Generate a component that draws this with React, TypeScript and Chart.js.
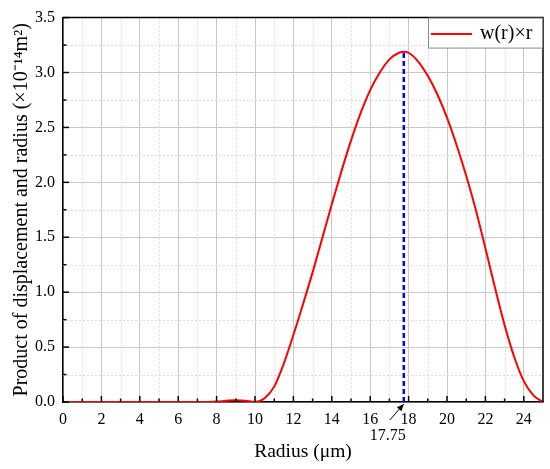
import React, { useEffect, useRef } from 'react';
import { Chart, registerables } from 'chart.js';

Chart.register(...registerables);

const radius = [0, 1, 2, 3, 4, 5, 6, 7, 7.5, 8, 8.5, 9, 9.5, 10, 10.5, 11, 11.5, 12, 12.5, 13, 13.5, 14, 14.5, 15, 15.5, 16, 16.5, 17, 17.5, 17.75, 18, 18.5, 19, 19.5, 20, 20.5, 21, 21.5, 22, 22.5, 23, 23.5, 24, 24.5, 25];
const product = [0, 0, 0, 0, 0, 0, 0, 0, 0.001, 0.004, 0.011, 0.016, 0.012, 0.0, 0.035, 0.14, 0.35, 0.61, 0.89, 1.18, 1.49, 1.8, 2.1, 2.38, 2.63, 2.84, 3.0, 3.12, 3.18, 3.19, 3.18, 3.1, 2.97, 2.8, 2.59, 2.34, 2.06, 1.75, 1.4, 1.04, 0.7, 0.41, 0.19, 0.06, 0];
const xTicks = [0, 2, 4, 6, 8, 10, 12, 14, 16, 18, 20, 22, 24];
const yTicks = [0, 0.5, 1.0, 1.5, 2.0, 2.5, 3.0, 3.5];
const xMax = 25;
const yMax = 3.5;
const peakRadius = 17.75;
const peakValue = 3.19;
const peakLabel = '17.75';
const seriesLabel = 'w(r)×r';
const xTitle = 'Radius (μm)';
const yTitle = 'Product of displacement and radius (×10⁻¹⁴m²)';

const FONT = "'Liberation Serif', 'Times New Roman', serif";

export default function App() {
  const ref = useRef<HTMLCanvasElement>(null);

  useEffect(() => {
    document.body.style.margin = '0';
    const canvas = ref.current!;

    const decor = {
      id: 'decor',
      beforeDatasetsDraw(chart: any) {
        const { ctx, chartArea: a, scales } = chart;
        const x = scales.x;
        const y = scales.y;
        ctx.save();
        ctx.strokeStyle = '#dcdcdc';
        ctx.lineWidth = 1;
        ctx.setLineDash([2, 2]);
        xTicks.forEach((t) => {
          const v = t + 1;
          if (v >= xMax) return;
          const px = Math.round(x.getPixelForValue(v)) + 0.5;
          ctx.beginPath();
          ctx.moveTo(px, a.top);
          ctx.lineTo(px, a.bottom);
          ctx.stroke();
        });
        yTicks.forEach((t) => {
          const v = t + 0.25;
          if (v >= yMax) return;
          const py = Math.round(y.getPixelForValue(v)) + 0.5;
          ctx.beginPath();
          ctx.moveTo(a.left, py);
          ctx.lineTo(a.right, py);
          ctx.stroke();
        });
        ctx.restore();
      },
      afterDraw(chart: any) {
        const { ctx, chartArea: a, scales } = chart;
        const x = scales.x;
        const y = scales.y;
        ctx.save();
        // frame
        ctx.strokeStyle = '#000';
        ctx.lineWidth = 1.5;
        ctx.beginPath();
        ctx.moveTo(a.left, a.top);
        ctx.lineTo(a.right, a.top);
        ctx.lineTo(a.right, a.bottom);
        ctx.stroke();
        // inward ticks
        ctx.lineWidth = 1.5;
        xTicks.forEach((t) => {
          const px = x.getPixelForValue(t);
          ctx.beginPath();
          ctx.moveTo(px, a.bottom);
          ctx.lineTo(px, a.bottom - 6);
          ctx.stroke();
          const m = t + 1;
          if (m < xMax) {
            const pm = x.getPixelForValue(m);
            ctx.beginPath();
            ctx.moveTo(pm, a.bottom);
            ctx.lineTo(pm, a.bottom - 3.5);
            ctx.stroke();
          }
        });
        yTicks.forEach((t) => {
          const py = y.getPixelForValue(t);
          ctx.beginPath();
          ctx.moveTo(a.left, py);
          ctx.lineTo(a.left + 6, py);
          ctx.stroke();
          const m = t + 0.25;
          if (m < yMax) {
            const pm = y.getPixelForValue(m);
            ctx.beginPath();
            ctx.moveTo(a.left, pm);
            ctx.lineTo(a.left + 3.5, pm);
            ctx.stroke();
          }
        });
        // legend
        const bw = 114;
        const bh = 30;
        const bx = a.right - bw - 1;
        const by = a.top + 0.5;
        ctx.fillStyle = '#fff';
        ctx.fillRect(bx, by, bw, bh);
        ctx.strokeStyle = '#8a8a8a';
        ctx.lineWidth = 1;
        ctx.strokeRect(bx + 0.5, by, bw, bh);
        ctx.strokeStyle = '#ff0000';
        ctx.lineWidth = 2;
        ctx.beginPath();
        ctx.moveTo(bx + 3, by + 16);
        ctx.lineTo(bx + 44, by + 16);
        ctx.stroke();
        ctx.fillStyle = '#000';
        ctx.font = `20px ${FONT}`;
        ctx.textBaseline = 'middle';
        ctx.textAlign = 'left';
        ctx.fillText(seriesLabel, bx + 52, by + 16);
        // annotation arrow
        const tipX = x.getPixelForValue(peakRadius);
        const tipY = a.bottom + 2;
        const tailX = tipX - 14;
        const tailY = tipY + 16;
        ctx.strokeStyle = '#000';
        ctx.lineWidth = 1;
        ctx.beginPath();
        ctx.moveTo(tailX, tailY);
        ctx.lineTo(tipX, tipY);
        ctx.stroke();
        const ang = Math.atan2(tipY - tailY, tipX - tailX);
        const hl = 7;
        const hw = 3;
        ctx.beginPath();
        ctx.moveTo(tipX, tipY);
        ctx.lineTo(tipX - hl * Math.cos(ang) + hw * Math.sin(ang), tipY - hl * Math.sin(ang) - hw * Math.cos(ang));
        ctx.lineTo(tipX - hl * Math.cos(ang) - hw * Math.sin(ang), tipY - hl * Math.sin(ang) + hw * Math.cos(ang));
        ctx.closePath();
        ctx.fillStyle = '#000';
        ctx.fill();
        ctx.font = `16px ${FONT}`;
        ctx.textAlign = 'center';
        ctx.fillText(peakLabel, tipX - 16, a.bottom + 34);
        ctx.restore();
      },
    };

    const chart = new Chart(canvas, {
      type: 'line',
      data: {
        datasets: [
          {
            label: seriesLabel,
            data: radius.map((r, i) => ({ x: r, y: product[i] })),
            borderColor: '#ff0000',
            borderWidth: 2,
            pointRadius: 0,
            cubicInterpolationMode: 'monotone',
            fill: false,
          },
          {
            label: 'peak',
            data: [
              { x: peakRadius, y: 0 },
              { x: peakRadius, y: peakValue },
            ],
            borderColor: '#0000ff',
            borderWidth: 2.5,
            borderDash: [5, 3],
            pointRadius: 0,
            fill: false,
          },
        ],
      },
      options: {
        animation: false,
        responsive: true,
        maintainAspectRatio: false,
        layout: { padding: { top: 16, right: 7, left: 0, bottom: 0 } },
        plugins: { legend: { display: false }, tooltip: { enabled: false } },
        scales: {
          x: {
            type: 'linear',
            min: 0,
            max: xMax,
            afterBuildTicks: (s: any) => {
              s.ticks = xTicks.map((v) => ({ value: v }));
            },
            afterFit: (s: any) => {
              s.height = 67;
            },
            ticks: {
              color: '#000',
              font: { family: FONT, size: 16 },
              padding: 8,
              maxRotation: 0,
              autoSkip: false,
              callback: (v: any) => String(v),
            },
            grid: { color: '#c8c8c8', lineWidth: 1, drawTicks: false },
            border: { color: '#000', width: 1.5 },
            title: {
              display: true,
              text: xTitle,
              color: '#000',
              font: { family: FONT, size: 19.5 },
              padding: { top: 0, bottom: 5 },
            },
          },
          y: {
            type: 'linear',
            min: 0,
            max: yMax,
            afterBuildTicks: (s: any) => {
              s.ticks = yTicks.map((v) => ({ value: v }));
            },
            afterFit: (s: any) => {
              s.width = 63;
            },
            ticks: {
              color: '#000',
              font: { family: FONT, size: 16 },
              padding: 8,
              autoSkip: false,
              callback: (v: any) => Number(v).toFixed(1),
            },
            grid: { color: '#c8c8c8', lineWidth: 1, drawTicks: false },
            border: { color: '#000', width: 1.5 },
            title: {
              display: true,
              text: yTitle,
              color: '#000',
              font: { family: FONT, size: 20 },
              padding: { top: 10, bottom: 0 },
            },
          },
        },
      },
      plugins: [decor],
    } as any);

    return () => chart.destroy();
  }, []);

  return (
    <div style={{ width: 550, height: 469, position: 'relative' }}>
      <canvas ref={ref} />
    </div>
  );
}
